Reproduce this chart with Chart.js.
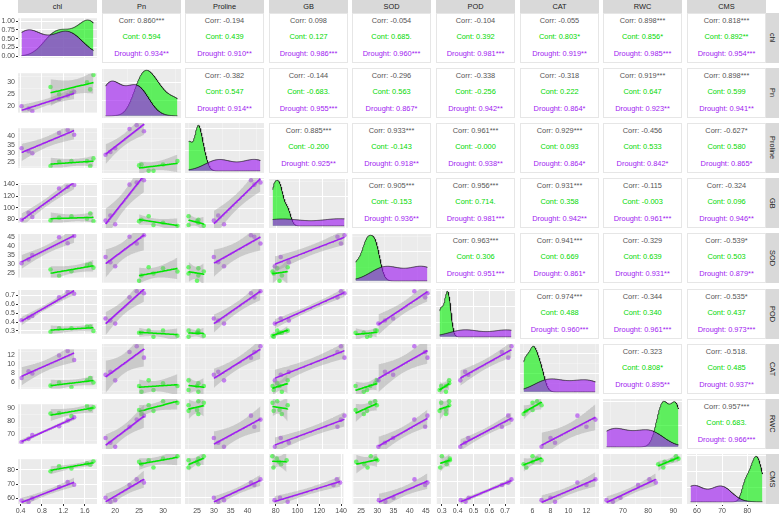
<!DOCTYPE html>
<html><head><meta charset="utf-8">
<script src="https://cdn.jsdelivr.net/npm/chart.js@4.4.0/dist/chart.umd.min.js"></script>
<style>
body{margin:0;background:#fff;width:779px;height:515px;overflow:hidden;position:relative;font-family:"Liberation Sans",Arial,sans-serif}
.strip{position:absolute;background:#D9D9D9;color:#1A1A1A;font-size:7.4px;display:flex;align-items:center;justify-content:center;white-space:nowrap}
.vstrip{writing-mode:vertical-rl}
.up{position:absolute;background:#fff;border:1px solid #E6E6E6;box-sizing:border-box}
.t{position:absolute;left:0;right:0;text-align:center;font-size:7.4px;line-height:8px;white-space:nowrap}
canvas{position:absolute}
</style></head><body>
<script>
// ---------------- data ----------------
const vars = ['chl','Pn','Proline','GB','SOD','POD','CAT','RWC','CMS'];
const groups = ['Cont','Drought'];

const chlCont = [0.96, 1.12, 1.35, 1.64, 1.70, 1.76];
const chlDrought = [0.42, 0.55, 0.62, 1.12, 1.28, 1.40];
const PnCont = [28, 25, 25.5, 30, 27, 33];
const PnDrought = [20, 19, 18, 23, 24.5, 26];
const ProlineCont = [22.5, 25, 25.4, 25.4, 22.5, 27];
const ProlineDrought = [33, 31.3, 30, 42, 43.8, 41];
const GBCont = [78, 83, 85, 81, 90, 77];
const GBDrought = [79, 91, 84, 133, 136, 139];
const SODCont = [27, 23.5, 26, 29.5, 30, 28];
const SODDrought = [30.5, 32.5, 35, 44.8, 41.5, 45.5];
const PODCont = [0.29, 0.33, 0.33, 0.35, 0.35, 0.30];
const PODDrought = [0.42, 0.45, 0.47, 0.68, 0.74, 0.72];
const CATCont = [5.3, 6.0, 5.0, 6.5, 7.0, 6.0];
const CATDrought = [7.0, 8.5, 8.0, 12.0, 13.0, 11.0];
const RWCCont = [86, 86.5, 84, 92, 89.5, 91];
const RWCDrought = [63.5, 66, 69, 76, 80.5, 83];
const CMSCont = [79, 82.5, 81, 84.5, 83.5, 86];
const CMSDrought = [58.5, 57.5, 60, 68, 71.5, 69.5];

const chlTicks = ['0.4','0.8','1.2','1.6'];
const PnTicks = ['20','25','30'];
const ProlineTicks = ['25','30','35','40'];
const GBTicks = ['80','100','120','140'];
const SODTicks = ['25','30','35','40','45'];
const PODTicks = ['0.3','0.4','0.5','0.6','0.7'];
const CATTicks = ['6','8','10','12'];
const RWCTicks = ['70','80','90'];
const CMSTicks = ['60','70','80'];
const densityTicks = ['0.00','0.25','0.50','0.75','1.00'];

// upper-triangle labels, reading order (row by row, left to right)
const corrTotal = ['0.860***','-0.194','0.098','-0.054','-0.104','-0.055','0.898***','0.818***',
  '-0.382','-0.144','-0.296','-0.338','-0.318','0.919***','0.898***',
  '0.885***','0.933***','0.961***','0.929***','-0.456','-0.627*',
  '0.905***','0.956***','0.931***','-0.115','-0.324',
  '0.963***','0.941***','-0.329','-0.539*',
  '0.974***','-0.344','-0.535*',
  '-0.323','-0.518.',
  '0.957***'];
const corrCont = ['0.594','0.439','0.127','0.685.','0.392','0.803*','0.856*','0.892**',
  '0.547','-0.683.','0.563','-0.256','0.222','0.647','0.599',
  '-0.200','-0.143','-0.000','0.093','0.533','0.580',
  '-0.153','0.714.','0.358','-0.003','0.096',
  '0.306','0.669','0.639','0.503',
  '0.488','0.340','0.437',
  '0.808*','0.485',
  '0.683.'];
const corrDrought = ['0.934**','0.910**','0.986***','0.960***','0.981***','0.919**','0.985***','0.954***',
  '0.914**','0.955***','0.867*','0.942**','0.864*','0.923**','0.941**',
  '0.925**','0.918**','0.938**','0.864*','0.842*','0.865*',
  '0.936**','0.981***','0.942**','0.961***','0.946**',
  '0.951***','0.861*','0.931**','0.879**',
  '0.960***','0.961***','0.973***',
  '0.895**','0.937**',
  '0.966***'];

const series = {
  chl:[chlCont,chlDrought], Pn:[PnCont,PnDrought], Proline:[ProlineCont,ProlineDrought],
  GB:[GBCont,GBDrought], SOD:[SODCont,SODDrought], POD:[PODCont,PODDrought],
  CAT:[CATCont,CATDrought], RWC:[RWCCont,RWCDrought], CMS:[CMSCont,CMSDrought]
};
const tickLabels = {chl:chlTicks, Pn:PnTicks, Proline:ProlineTicks, GB:GBTicks, SOD:SODTicks,
  POD:PODTicks, CAT:CATTicks, RWC:RWCTicks, CMS:CMSTicks};

// ---------------- styles / layout ----------------
const W = 79, H = 50, AXW = 18, AXH = 11;
const colL = j => Math.round(18 + j * 83.6);
const rowT = i => Math.round(13 + i * 55.1);
const ptColor = ['rgba(0,255,0,0.55)', 'rgba(160,32,240,0.55)'];
const lineColor = ['#00E600', '#A020F0'];
const densFill = ['rgba(0,240,0,0.6)', 'rgba(160,32,240,0.65)'];
const bandFill = 'rgba(153,153,153,0.4)';
const textColors = ['#555555', '#00D800', '#A020F0'];

Chart.defaults.font.family = "'Liberation Sans', Arial, sans-serif";
Chart.defaults.font.size = 7;
Chart.defaults.color = '#4D4D4D';

const bgPlugin = {
  id: 'panelBg',
  beforeDraw(chart) {
    const {ctx, chartArea: a} = chart;
    ctx.save(); ctx.fillStyle = '#EBEBEB';
    ctx.fillRect(a.left, a.top, a.right - a.left, a.bottom - a.top);
    ctx.restore();
  }
};

// ---------------- helpers ----------------
const mean = a => a.reduce((s, v) => s + v, 0) / a.length;
const sdev = a => { const m = mean(a); return Math.sqrt(a.reduce((s, v) => s + (v - m) * (v - m), 0) / (a.length - 1)); };
function quantile(x, p) {
  const a = [...x].sort((u, v) => u - v); const h = (a.length - 1) * p; const f = Math.floor(h);
  const nxt = f + 1 < a.length ? a[f + 1] : a[f];
  return a[f] + (h - f) * (nxt - a[f]);
}
function bwNrd0(x) {
  const s = sdev(x); const iqr = quantile(x, 0.75) - quantile(x, 0.25);
  let lo = Math.min(s, iqr / 1.34);
  if (!(lo > 0)) lo = s || 1;
  return 0.9 * lo * Math.pow(x.length, -0.2);
}
function kde(x, lo, hi) {
  const bw = bwNrd0(x), n = x.length, out = [], N = 256;
  const c = 1 / (n * bw * Math.sqrt(2 * Math.PI));
  for (let k = 0; k < N; k++) {
    const g = lo + (hi - lo) * k / (N - 1);
    let s = 0; for (const v of x) { const z = (g - v) / bw; s += Math.exp(-0.5 * z * z); }
    out.push({x: g, y: s * c});
  }
  return out;
}
function lmBand(xs, ys) {
  const n = xs.length, mx = mean(xs), my = mean(ys);
  let sxx = 0, sxy = 0;
  for (let k = 0; k < n; k++) { sxx += (xs[k] - mx) ** 2; sxy += (xs[k] - mx) * (ys[k] - my); }
  const b = sxy / sxx, a = my - b * mx;
  let sse = 0; for (let k = 0; k < n; k++) sse += (ys[k] - a - b * xs[k]) ** 2;
  const s = Math.sqrt(sse / (n - 2)), t = 2.776445;
  const x0 = Math.min(...xs), x1 = Math.max(...xs);
  const fit = [], lo = [], hi = [];
  for (let k = 0; k < 80; k++) {
    const x = x0 + (x1 - x0) * k / 79, y = a + b * x;
    const se = s * Math.sqrt(1 / n + (x - mx) ** 2 / sxx);
    fit.push({x, y}); lo.push({x, y: y - t * se}); hi.push({x, y: y + t * se});
  }
  return {fit, lo, hi};
}
const expand = (lo, hi) => { const d = (hi - lo) * 0.05; return [lo - d, hi + d]; };
function minorsOf(vals, lo, hi) {
  if (vals.length < 2) return [];
  const step = vals[1] - vals[0], out = [];
  for (let k = -1; k < vals.length; k++) {
    const m = vals[0] + (k + 0.5) * step;
    if (m >= lo && m <= hi) out.push(m);
  }
  return out;
}
function axisCfg(pos, lo, hi, labels, show) {
  return {
    type: 'linear', position: pos, min: lo, max: hi, bounds: 'data',
    afterBuildTicks(s) {
      let majors;
      if (labels) majors = labels.map(t => ({value: Number(t), lab: t})).filter(t => t.value >= lo && t.value <= hi);
      else majors = s.ticks.map(t => ({value: t.value, lab: ''}));
      const mins = minorsOf(majors.map(t => t.value), lo, hi).map(v => ({value: v, minor: true}));
      s.ticks = majors.concat(mins).sort((p, q) => p.value - q.value);
    },
    afterFit(s) { if (pos === 'left') s.width = show ? AXW : 0; else s.height = show ? AXH : 0; },
    ticks: {display: show, autoSkip: false, maxRotation: 0, minRotation: 0, includeBounds: false,
      maxTicksLimit: 5, padding: 1, callback: (v, i, t) => (t[i] && t[i].lab) || ''},
    grid: {
      color: c => (c.tick && c.tick.minor) ? 'rgba(255,255,255,0.6)' : '#FFFFFF',
      lineWidth: c => (c.tick && c.tick.minor) ? 0.5 : 1,
      drawTicks: show, tickLength: 2,
      tickColor: c => (c.tick && c.tick.minor) ? 'rgba(0,0,0,0)' : '#333333'
    },
    border: {display: false}
  };
}
function addCanvas(left, top, w, h) {
  const c = document.createElement('canvas');
  c.width = w; c.height = h;
  c.style.left = left + 'px'; c.style.top = top + 'px';
  c.style.width = w + 'px'; c.style.height = h + 'px';
  document.body.appendChild(c);
  return c;
}
function makeChart(canvas, datasets, xScale, yScale) {
  return new Chart(canvas, {
    type: 'scatter',
    data: {datasets},
    options: {
      responsive: false, animation: false, devicePixelRatio: 1, events: [],
      layout: {padding: 0, autoPadding: false},
      plugins: {legend: {display: false}, tooltip: {enabled: false}},
      scales: {x: xScale, y: yScale}
    },
    plugins: [bgPlugin]
  });
}

// ---------------- build panels ----------------
let upIdx = 0;
for (let i = 0; i < 9; i++) {
  for (let j = 0; j < 9; j++) {
    const showY = j === 0, showX = i === 8;
    const left = colL(j) - (showY ? AXW : 0), top = rowT(i);
    const w = W + (showY ? AXW : 0), h = H + (showX ? AXH : 0);
    const xv = vars[j], yv = vars[i];
    if (i < j) {
      const d = document.createElement('div');
      d.className = 'up';
      d.style.cssText = `left:${colL(j)}px;top:${rowT(i)}px;width:${W}px;height:${H}px`;
      const lines = ['Corr: ' + corrTotal[upIdx], 'Cont: ' + corrCont[upIdx], 'Drought: ' + corrDrought[upIdx]];
      const tops = [3, 19, 35.5];
      lines.forEach((txt, k) => {
        const s = document.createElement('div');
        s.className = 't'; s.textContent = txt;
        s.style.top = tops[k] + 'px'; s.style.color = textColors[k];
        d.appendChild(s);
      });
      document.body.appendChild(d);
      upIdx++;
      continue;
    }
    const xsAll = series[xv][0].concat(series[xv][1]);
    const [xlo, xhi] = expand(Math.min(...xsAll), Math.max(...xsAll));
    const canvas = addCanvas(left, top, w, h);
    if (i === j) {
      const rmin = Math.min(...xsAll), rmax = Math.max(...xsAll);
      const dens = groups.map((g, k) => kde(series[xv][k], rmin, rmax));
      const M = Math.max(...dens.flat().map(p => p.y));
      const datasets = dens.map((pts, k) => ({
        type: 'line', data: pts, fill: 'origin', backgroundColor: densFill[k],
        borderColor: '#000000', borderWidth: 0.6, pointRadius: 0, tension: 0, order: 2 - k
      }));
      makeChart(canvas, datasets,
        axisCfg('bottom', xlo, xhi, tickLabels[xv], showX),
        axisCfg('left', -0.05 * M, 1.05 * M, i === 0 ? densityTicks : null, showY));
    } else {
      const datasets = [];
      groups.forEach((g, k) => {
        const xs = series[xv][k], ys = series[yv][k];
        datasets.push({type: 'scatter', data: xs.map((x, n) => ({x, y: ys[n]})),
          backgroundColor: ptColor[k], borderWidth: 0, pointRadius: 2.3, order: 10 - k});
      });
      groups.forEach((g, k) => {
        const xs = series[xv][k], ys = series[yv][k];
        const b = lmBand(xs, ys);
        const ord = 8 - 2 * k;
        datasets.push({type: 'line', data: b.hi, borderWidth: 0, pointRadius: 0, fill: '+1',
          backgroundColor: bandFill, order: ord, tension: 0, clip: 0});
        datasets.push({type: 'line', data: b.lo, borderWidth: 0, pointRadius: 0, fill: false,
          order: ord, tension: 0, clip: 0});
        datasets.push({type: 'line', data: b.fit, borderColor: lineColor[k], borderWidth: 1.5,
          pointRadius: 0, fill: false, order: ord - 1, tension: 0, clip: 0});
      });
      const ysAll = series[yv][0].concat(series[yv][1]);
      const [ylo, yhi] = expand(Math.min(...ysAll), Math.max(...ysAll));
      makeChart(canvas, datasets,
        axisCfg('bottom', xlo, xhi, tickLabels[xv], showX),
        axisCfg('left', ylo, yhi, tickLabels[yv], showY));
    }
  }
}

// ---------------- strips ----------------
vars.forEach((v, j) => {
  const d = document.createElement('div');
  d.className = 'strip'; d.textContent = v;
  d.style.cssText = `left:${colL(j)}px;top:0px;width:${W}px;height:13px`;
  document.body.appendChild(d);
});
vars.forEach((v, i) => {
  const d = document.createElement('div');
  d.className = 'strip vstrip'; d.textContent = v;
  d.style.cssText = `left:766px;top:${rowT(i)}px;width:13px;height:${H}px`;
  document.body.appendChild(d);
});
</script>
</body></html>
